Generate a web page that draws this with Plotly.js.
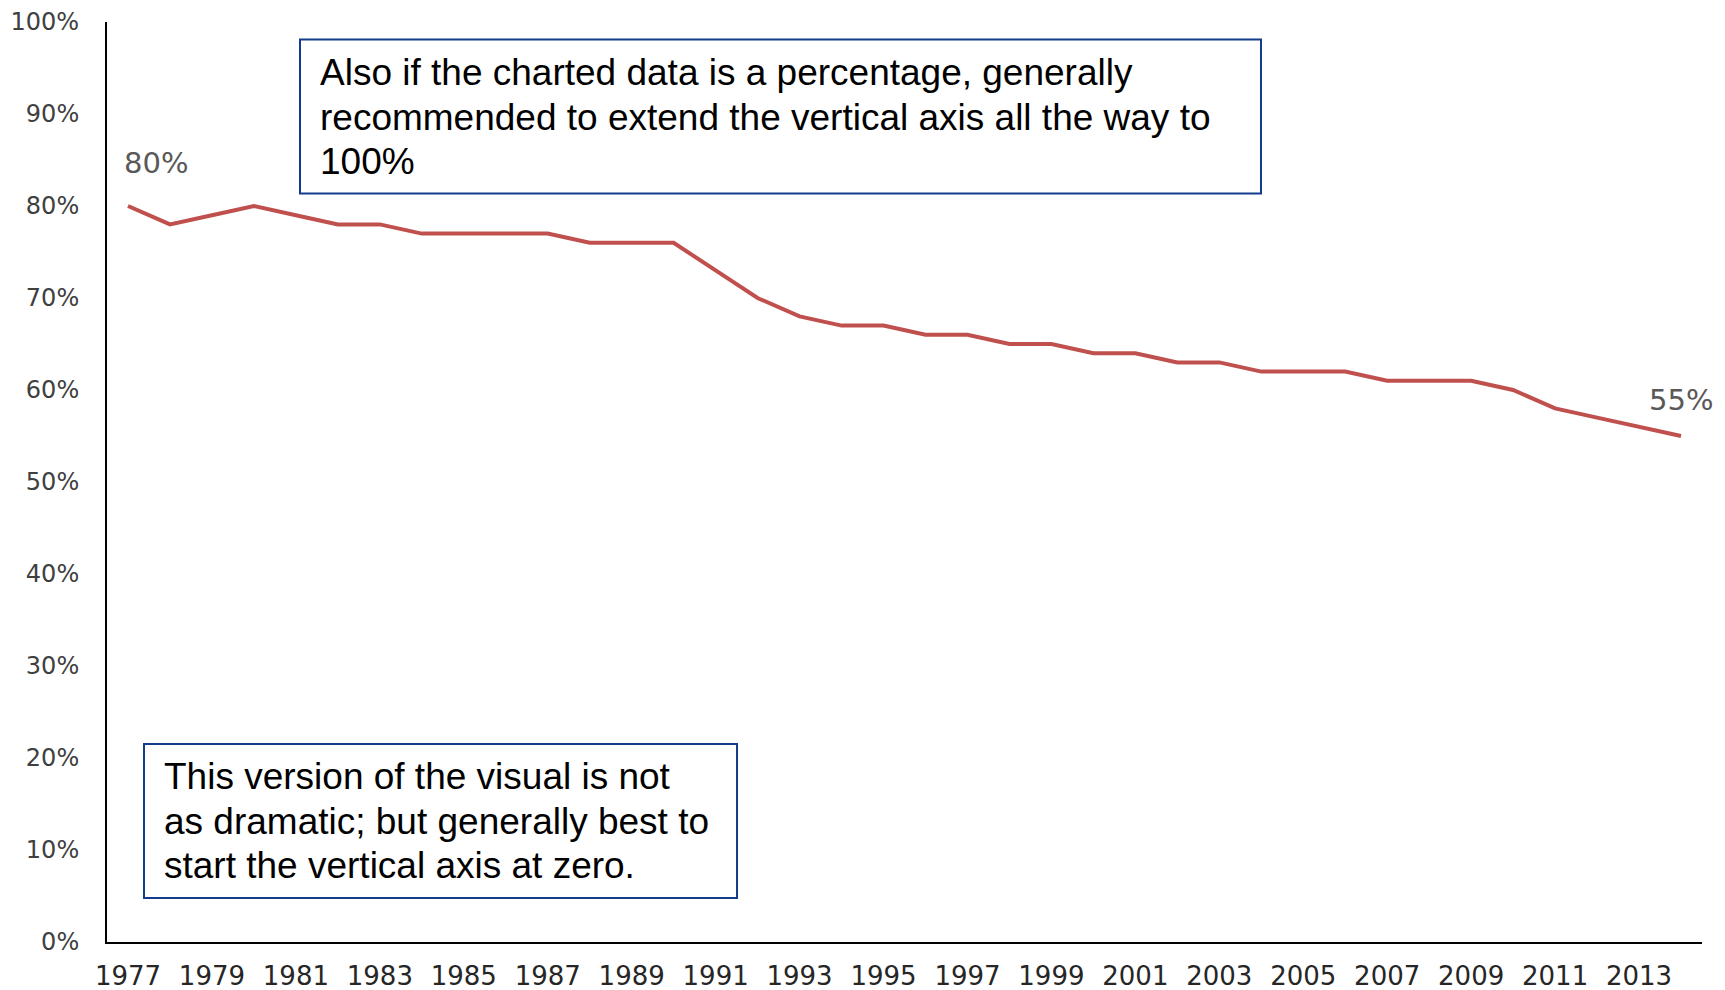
<!DOCTYPE html>
<html>
<head>
<meta charset="utf-8">
<script src="https://cdn.plot.ly/plotly-3.0.1.min.js"></script>
<style>
  html, body { margin: 0; padding: 0; background: #ffffff; }
  #chart { width: 1725px; height: 990px; }
</style>
</head>
<body>
<div id="chart"></div>
<script>
// ---- data ----
const years = [1977, 1978, 1979, 1980, 1981, 1982, 1983, 1984, 1985, 1986,
               1987, 1988, 1989, 1990, 1991, 1992, 1993, 1994, 1995, 1996,
               1997, 1998, 1999, 2000, 2001, 2002, 2003, 2004, 2005, 2006,
               2007, 2008, 2009, 2010, 2011, 2012, 2013, 2014];
const share = [80, 78, 79, 80, 79, 78, 78, 77, 77, 77,
               77, 76, 76, 76, 73, 70, 68, 67, 67, 66,
               66, 65, 65, 64, 64, 63, 63, 62, 62, 62,
               61, 61, 61, 60, 58, 57, 56, 55];
const labelledYears = [1977, 2014];
const noteTopLines = [
  "Also if the charted data is a percentage, generally",
  "recommended to extend the vertical axis all the way to",
  "100%"
];
const noteBottomLines = [
  "This version of the visual is not",
  "as dramatic; but generally best to",
  "start the vertical axis at zero."
];

// ---- chart ----
const trace = {
  x: years,
  y: share,
  type: 'scatter',
  mode: 'lines',
  line: { color: '#C0504D', width: 4 },
  hoverinfo: 'skip'
};

const dataLabelAnns = labelledYears.map((yr, i) => {
  const idx = years.indexOf(yr);
  return {
    x: yr, y: share[idx], xref: 'x', yref: 'y',
    text: share[idx] + '%',
    showarrow: false,
    xshift: i === 0 ? 28 : 0,
    yshift: i === 0 ? 43 : 36,
    font: { family: 'DejaVu Sans, Verdana, sans-serif', size: 29, color: '#595959' }
  };
});

const noteFont = { family: 'Liberation Sans, Arial, sans-serif', size: 37, color: '#000000' };
function noteAnns(lines, x, yTop, step) {
  return lines.map((t, i) => ({
    xref: 'paper', yref: 'paper', x: x, y: yTop - i * step,
    xanchor: 'left', yanchor: 'middle', align: 'left',
    showarrow: false, text: t, font: noteFont
  }));
}

const boxBorder = '#123C8C';
const layout = {
  width: 1725,
  height: 990,
  margin: { l: 107, r: 23, t: 22, b: 48 },
  paper_bgcolor: '#ffffff',
  plot_bgcolor: '#ffffff',
  showlegend: false,
  xaxis: {
    range: [1976.5, 2014.5],
    tick0: 1977, dtick: 2,
    showgrid: false, zeroline: false,
    showline: true, linecolor: '#000000', linewidth: 2,
    ticks: '',
    ticklabelstandoff: 10,
    tickfont: { family: 'DejaVu Sans, Verdana, sans-serif', size: 26, color: '#262626' }
  },
  yaxis: {
    range: [0, 100],
    tick0: 0, dtick: 10,
    ticksuffix: '%',
    showgrid: false, zeroline: false,
    showline: true, linecolor: '#000000', linewidth: 2,
    ticks: '',
    ticklabelstandoff: 21,
    tickfont: { family: 'DejaVu Sans, Verdana, sans-serif', size: 24, color: '#404040' }
  },
  shapes: [
    { type: 'rect', xref: 'paper', yref: 'paper', x0: 0.121, x1: 0.7235, y0: 0.8135, y1: 0.981,
      line: { color: boxBorder, width: 2 }, fillcolor: 'rgba(255,255,255,0)' },
    { type: 'rect', xref: 'paper', yref: 'paper', x0: 0.0232, x1: 0.395, y0: 0.0478, y1: 0.2152,
      line: { color: boxBorder, width: 2 }, fillcolor: 'rgba(255,255,255,0)' }
  ],
  annotations: dataLabelAnns
    .concat(noteAnns(noteTopLines, 0.1321, 0.9450, 0.0484))
    .concat(noteAnns(noteBottomLines, 0.0343, 0.1798, 0.0484))
};

Plotly.newPlot('chart', [trace], layout, { displayModeBar: false, staticPlot: true });
</script>
</body>
</html>
